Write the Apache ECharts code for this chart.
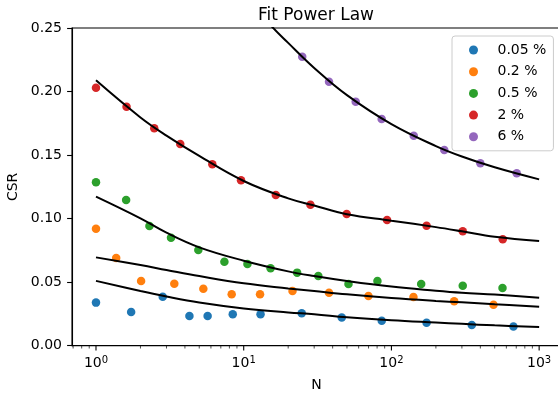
<!DOCTYPE html>
<html>
<head>
<meta charset="utf-8">
<script src="https://cdn.jsdelivr.net/npm/echarts@6/dist/echarts.min.js"></script>
<style>
  html, body { margin: 0; padding: 0; background: #fff; }
  #chart { width: 558px; height: 396px; }
</style>
</head>
<body>
<div id="chart"></div>
<script>
const seriesNames = ['0.05 %', '0.2 %', '0.5 %', '2 %', '6 %'];
const colors = ['#1f77b4', '#ff7f0e', '#2ca02c', '#d62728', '#9467bd'];

// measured points (N, CSR)
const nBlue = [1, 1.73, 2.83, 4.29, 5.70, 8.43, 13.0, 24.7, 46.1, 86.0, 173, 350, 670];
const csrBlue = [0.0339, 0.0265, 0.0386, 0.0234, 0.0234, 0.0247, 0.0247, 0.0255, 0.0221, 0.0197, 0.0181, 0.0163, 0.0152];

const nOrange = [1, 1.37, 2.02, 3.39, 5.33, 8.29, 12.9, 21.4, 37.8, 69.9, 141, 266, 491];
const csrOrange = [0.0921, 0.0690, 0.0509, 0.0488, 0.0449, 0.0404, 0.0404, 0.0430, 0.0417, 0.0391, 0.0383, 0.0349, 0.0323];

const nGreen = [1, 1.60, 2.30, 3.22, 4.93, 7.40, 10.6, 15.2, 23.0, 32.0, 51.2, 80.4, 159, 304, 565];
const csrGreen = [0.1286, 0.1147, 0.0942, 0.0850, 0.0753, 0.0661, 0.0643, 0.0609, 0.0575, 0.0548, 0.0486, 0.0509, 0.0486, 0.0472, 0.0454];

const nRed = [1, 1.61, 2.48, 3.72, 6.13, 9.59, 16.5, 28.3, 49.8, 93.4, 173, 304, 567];
const csrRed = [0.2030, 0.1881, 0.1711, 0.1587, 0.1427, 0.1302, 0.1186, 0.1110, 0.1036, 0.0989, 0.0944, 0.0900, 0.0837];

const nPurple = [24.9, 37.8, 57.3, 85.9, 141.6, 228, 400, 705];
const csrPurple = [0.2274, 0.2077, 0.1920, 0.1784, 0.1652, 0.1540, 0.1435, 0.1357];

// fitted power-law curves
const fitN = [1, 2, 3, 5, 10, 20, 30, 50, 100, 200, 300, 500, 1000];
const fitBlue = [0.0510, 0.0430, 0.0387, 0.0340, 0.0293, 0.0262, 0.0248, 0.0224, 0.0200, 0.0182, 0.0172, 0.0160, 0.0147];
const fitOrange = [0.0695, 0.0635, 0.0596, 0.0548, 0.0491, 0.0451, 0.0430, 0.0404, 0.0375, 0.0352, 0.0341, 0.0326, 0.0307];
const fitGreen = [0.1173, 0.1002, 0.0889, 0.0774, 0.0669, 0.0585, 0.0548, 0.0509, 0.0465, 0.0433, 0.0417, 0.0402, 0.0378];
const fitRed = [0.2088, 0.1796, 0.1653, 0.1493, 0.1296, 0.1159, 0.1103, 0.1035, 0.0984, 0.0933, 0.0900, 0.0857, 0.0824];
const fitNPurple = [10, 15, 20, 30, 50, 100, 200, 300, 500, 1000];
const fitPurple = [0.278, 0.253, 0.2383, 0.2186, 0.1972, 0.1744, 0.1571, 0.1489, 0.1404, 0.1309];

// x axis ticks (log scale)
const majorTicks = [1, 10, 100, 1000];
const minorTicks = [0.7, 0.8, 0.9, 2, 3, 4, 5, 6, 7, 8, 9, 20, 30, 40, 50, 60, 70, 80, 90,
  200, 300, 400, 500, 600, 700, 800, 900];
const yTicks = [0, 0.05, 0.1, 0.15, 0.2, 0.25];

const FONT = 'DejaVu Sans';
const zip = (xs, ys) => xs.map((x, i) => [x, ys[i]]);

const points = [
  zip(nBlue, csrBlue),
  zip(nOrange, csrOrange),
  zip(nGreen, csrGreen),
  zip(nRed, csrRed),
  zip(nPurple, csrPurple)
];
const fits = [
  zip(fitN, fitBlue),
  zip(fitN, fitOrange),
  zip(fitN, fitGreen),
  zip(fitN, fitRed),
  zip(fitNPurple, fitPurple)
];

const scatterSeries = seriesNames.map((name, i) => ({
  name,
  type: 'scatter',
  data: points[i],
  symbol: 'circle',
  symbolSize: 8.5,
  itemStyle: { color: colors[i], opacity: 1 },
  z: 2
}));

const fitSeries = fits.map((data, i) => ({
  name: 'fit ' + seriesNames[i],
  type: 'line',
  data,
  showSymbol: false,
  smooth: 0.4,
  clip: true,
  lineStyle: { color: '#000', width: 2 },
  itemStyle: { color: '#000' },
  z: 3
}));

const tickSeries = {
  type: 'custom',
  silent: true,
  clip: false,
  data: majorTicks.map(v => [v, 0, 1]).concat(minorTicks.map(v => [v, 0, 0])),
  renderItem(params, api) {
    const p = api.coord([api.value(0), 0]);
    const major = api.value(2) === 1;
    return {
      type: 'line',
      shape: { x1: p[0], y1: p[1], x2: p[0], y2: p[1] + (major ? 4.9 : 2.8) },
      style: { stroke: '#000', lineWidth: major ? 1.1 : 0.7 }
    };
  },
  z: 4
};

const chart = echarts.init(document.getElementById('chart'));
chart.setOption({
  animation: false,
  backgroundColor: '#fff',
  textStyle: { fontFamily: FONT },
  title: {
    text: 'Fit Power Law',
    left: 316,
    top: 7,
    padding: 0,
    textAlign: 'center',
    textStyle: { fontFamily: FONT, fontSize: 17, fontWeight: 'normal', color: '#000' }
  },
  legend: {
    data: seriesNames,
    orient: 'vertical',
    left: 452,
    top: 36,
    padding: [7, 7, 7, 17],
    itemGap: 7.7,
    itemWidth: 24,
    itemHeight: 9,
    icon: 'circle',
    backgroundColor: 'rgba(255,255,255,0.8)',
    borderColor: '#cccccc',
    borderWidth: 1,
    borderRadius: 3,
    textStyle: { fontFamily: FONT, fontSize: 14, lineHeight: 14, color: '#000', padding: [0, 0, 0, 7] }
  },
  grid: {
    left: 72,
    top: 28,
    width: 489,
    height: 317.7,
    show: true,
    borderColor: '#000',
    borderWidth: 1.1,
    backgroundColor: 'transparent',
    outerBoundsMode: 'none',
    containLabel: false
  },
  xAxis: {
    type: 'log',
    logBase: 10,
    min: 0.688,
    max: 1406,
    name: 'N',
    nameLocation: 'middle',
    nameGap: 33,
    nameTextStyle: { fontFamily: FONT, fontSize: 14, color: '#000' },
    axisLine: { show: true, lineStyle: { color: '#000', width: 1.1 } },
    axisTick: { show: false },
    minorTick: { show: false },
    splitLine: { show: false },
    axisLabel: {
      margin: 10,
      showMinLabel: false,
      showMaxLabel: false,
      formatter: v => {
        const l = Math.log10(v);
        const e = Math.round(l);
        if (Math.abs(l - e) > 1e-6 || majorTicks.indexOf(Math.pow(10, e)) < 0) return '';
        return '{b|10}{s|' + e + '}';
      },
      rich: {
        b: { fontFamily: FONT, fontSize: 14, lineHeight: 16, color: '#000', verticalAlign: 'middle' },
        s: { fontFamily: FONT, fontSize: 10, lineHeight: 10, color: '#000', verticalAlign: 'top' }
      }
    }
  },
  yAxis: {
    type: 'value',
    min: yTicks[0],
    max: yTicks[yTicks.length - 1],
    interval: 0.05,
    name: 'CSR',
    nameLocation: 'middle',
    nameGap: 48,
    nameTextStyle: { fontFamily: FONT, fontSize: 14, color: '#000' },
    axisLine: { show: true, lineStyle: { color: '#000', width: 1.1 } },
    axisTick: { show: true, inside: false, length: 4.9, lineStyle: { color: '#000', width: 1.1 } },
    splitLine: { show: false },
    axisLabel: {
      margin: 10,
      fontFamily: FONT,
      fontSize: 14,
      color: '#000',
      formatter: v => v.toFixed(2)
    }
  },
  series: scatterSeries.concat(fitSeries, [tickSeries])
});
</script>
</body>
</html>
